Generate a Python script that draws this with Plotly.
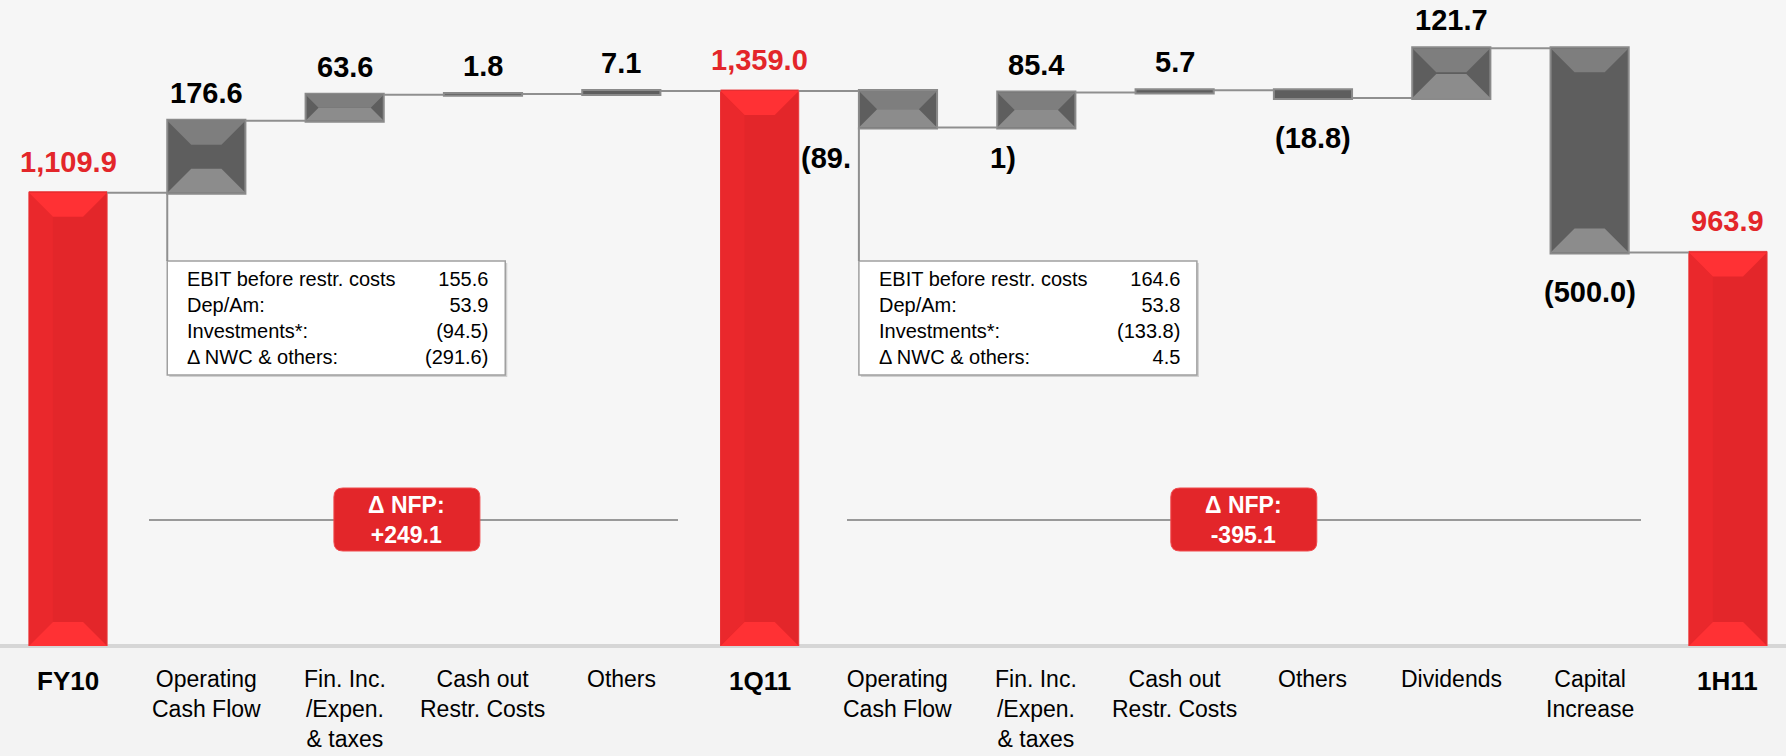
import plotly.graph_objects as go

# ---------------- data ----------------
categories = ["FY10", "Operating<br>Cash Flow", "Fin. Inc.<br>/Expen.<br>& taxes",
              "Cash out<br>Restr. Costs", "Others", "1Q11", "Operating<br>Cash Flow",
              "Fin. Inc.<br>/Expen.<br>& taxes", "Cash out<br>Restr. Costs", "Others",
              "Dividends", "Capital<br>Increase", "1H11"]
values = [1109.9, 176.6, 63.6, 1.8, 7.1, 1359.0, -89.1, 85.4, 5.7, -18.8, 121.7, -500.0, 963.9]
measures = ["absolute", "relative", "relative", "relative", "relative", "total",
            "relative", "relative", "relative", "relative", "relative", "relative", "total"]

box_labels = ["EBIT before restr. costs", "Dep/Am:", "Investments*:", "\u0394 NWC & others:"]
box1_values = [155.6, 53.9, -94.5, -291.6]
box2_values = [164.6, 53.8, -133.8, 4.5]
nfp_values = [249.1, -395.1]

# ---------------- geometry / style ----------------
W, H = 1786, 756
PLOT_H = 646           # plot area height in px (margin b = 110)
YMAX = 1582.0
X0_PX, PX_X = 68.0, 138.33
XMIN = -X0_PX / PX_X
XMAX = (W - X0_PX) / PX_X
PX_Y = PLOT_H / YMAX
BAR_W = 0.565
RED = "#e3262a"
GREY = "#5e5e5e"
FONT = "Liberation Sans, Arial, sans-serif"


def xd(px):
    return (px - X0_PX) / PX_X


def yp(py):
    return (PLOT_H - py) / PLOT_H


def fmt(v, thousands=False):
    s = f"{abs(v):,.1f}" if thousands else f"{abs(v):.1f}"
    return f"({s})" if v < 0 else s


xs = list(range(len(categories)))

# levels
bottoms, tops = [], []
run = 0.0
for v, m in zip(values, measures):
    if m == "absolute":
        run = v
        b, t = 0.0, v
    elif m == "total":
        b, t = 0.0, run
    else:
        b, t = min(run, run + v), max(run, run + v)
        run += v
    bottoms.append(b)
    tops.append(t)

fig = go.Figure()
fig.add_trace(go.Waterfall(
    x=xs, y=values, measure=measures, width=[BAR_W] * len(xs),
    increasing=dict(marker=dict(color=GREY, line=dict(color="#8a8a8a", width=2))),
    decreasing=dict(marker=dict(color=GREY, line=dict(color="#8a8a8a", width=2))),
    totals=dict(marker=dict(color=RED, line=dict(color="#e8383b", width=1))),
    connector=dict(mode="between", line=dict(color="#8f8f8f", width=2)),
    hoverinfo="skip", showlegend=False,
))

shapes = []

# floor shadow line
shapes.append(dict(type="line", xref="paper", yref="paper", x0=0, x1=1, y0=0, y1=0,
                   line=dict(color="#d6d6d6", width=4), layer="below"))

# bevel effect on bars
for i, (b, t, m) in enumerate(zip(bottoms, tops, measures)):
    hpx = (t - b) * PX_Y
    if hpx < 8:
        continue
    d = min(24.0, hpx / 2.0, BAR_W * PX_X / 2.0)
    dx, dy = d / PX_X, d / PX_Y
    xl, xr = i - BAR_W / 2, i + BAR_W / 2
    if m == "relative":
        ctop, cbot = "#7e7e7e", "#8c8c8c"
        cside = None
    else:
        ctop, cbot, cside = "#ff3134", "#ff3134", "#ea282c"
    top_path = f"M{xl},{t} L{xr},{t} L{xr-dx},{t-dy} L{xl+dx},{t-dy} Z"
    bot_path = f"M{xl},{b} L{xr},{b} L{xr-dx},{b+dy} L{xl+dx},{b+dy} Z"
    if cside:
        left_path = f"M{xl},{b} L{xl},{t} L{xl+dx},{t-dy} L{xl+dx},{b+dy} Z"
        shapes.append(dict(type="path", path=left_path, xref="x", yref="y",
                           fillcolor=cside, line=dict(width=0), layer="above"))
    shapes.append(dict(type="path", path=top_path, xref="x", yref="y",
                       fillcolor=ctop, line=dict(width=0), layer="above"))
    shapes.append(dict(type="path", path=bot_path, xref="x", yref="y",
                       fillcolor=cbot, line=dict(width=0), layer="above"))

annotations = []

# value labels
for i, (v, m, b, t) in enumerate(zip(values, measures, bottoms, tops)):
    if m in ("absolute", "total"):
        annotations.append(dict(x=i, y=t, text=f"<b>{fmt(t, True)}</b>", showarrow=False,
                                yshift=31, yanchor="middle",
                                font=dict(family=FONT, size=29, color=RED)))
    elif v >= 0:
        annotations.append(dict(x=i, y=t, text=f"<b>{fmt(v)}</b>", showarrow=False,
                                yshift=28, yanchor="middle",
                                font=dict(family=FONT, size=29, color="#000000")))
    elif i == 6:
        s = fmt(v)
        annotations.append(dict(x=i - BAR_W / 2, y=b, text=f"<b>{s[:-2]}</b>", showarrow=False,
                                xanchor="right", xshift=-6, yshift=-31, yanchor="middle",
                                font=dict(family=FONT, size=29, color="#000000")))
        annotations.append(dict(x=i + 1 - 0.24, y=b, text=f"<b>{s[-2:]}</b>", showarrow=False,
                                yshift=-31, yanchor="middle",
                                font=dict(family=FONT, size=29, color="#000000")))
    else:
        annotations.append(dict(x=i, y=b, text=f"<b>{fmt(v)}</b>", showarrow=False,
                                yshift=-40, yanchor="middle",
                                font=dict(family=FONT, size=29, color="#000000")))

# category labels
for i, (c, m) in enumerate(zip(categories, measures)):
    bold = m in ("absolute", "total")
    annotations.append(dict(x=i, y=0, yref="paper", text=f"<b>{c}</b>" if bold else c,
                            showarrow=False, yanchor="top", yshift=-18,
                            font=dict(family=FONT, size=26 if bold else 23, color="#000000")))

# info boxes
BOX_W_PX = 338
for idx, vals in [(1, box1_values), (6, box2_values)]:
    xl = idx - BAR_W / 2
    xr = xl + BOX_W_PX / PX_X
    ytop, ybot = yp(261), yp(375)
    shapes.append(dict(type="rect", xref="x", yref="paper", x0=xl + 2 / PX_X, x1=xr + 2 / PX_X,
                       y0=ybot - 2 / PLOT_H, y1=ytop - 2 / PLOT_H,
                       fillcolor="#d0d0d0", line=dict(width=0), layer="above"))
    shapes.append(dict(type="rect", xref="x", yref="paper", x0=xl, x1=xr, y0=ybot, y1=ytop,
                       fillcolor="#ffffff", line=dict(color="#a0a0a0", width=1.5), layer="above"))
    # connector from bar bottom to box
    shapes.append(dict(type="line", xref="x", yref="paper", x0=xl, x1=xl,
                       y0=ytop, y1=bottoms[idx] / YMAX,
                       line=dict(color="#8f8f8f", width=2), layer="above"))
    annotations.append(dict(x=xl, y=(ytop + ybot) / 2, yref="paper", xanchor="left", xshift=18,
                            yanchor="middle", align="left", showarrow=False,
                            text="<br>".join(box_labels),
                            font=dict(family=FONT, size=20, color="#000000")))
    annotations.append(dict(x=xr, y=(ytop + ybot) / 2, yref="paper", xanchor="right", xshift=-15,
                            yanchor="middle", align="right", showarrow=False,
                            text="<br>".join(fmt(v) for v in vals),
                            font=dict(family=FONT, size=20, color="#000000")))

# NFP badges
for (cx, lx0, lx1), nv in zip([(2.45, xd(149), xd(678)), (8.5, xd(847), xd(1641))], nfp_values):
    ly = yp(520)
    shapes.append(dict(type="line", xref="x", yref="paper", x0=lx0, x1=lx1, y0=ly, y1=ly,
                       line=dict(color="#999999", width=2), layer="above"))
    hw = 73 / PX_X
    x0, x1 = cx - hw, cx + hw
    y0, y1 = yp(551), yp(488)
    rx, ry = 9 / PX_X, 9 / PLOT_H
    path = (f"M{x0+rx},{y0} L{x1-rx},{y0} Q{x1},{y0} {x1},{y0+ry} L{x1},{y1-ry} "
            f"Q{x1},{y1} {x1-rx},{y1} L{x0+rx},{y1} Q{x0},{y1} {x0},{y1-ry} "
            f"L{x0},{y0+ry} Q{x0},{y0} {x0+rx},{y0} Z")
    shapes.append(dict(type="path", xref="x", yref="paper", path=path,
                       fillcolor=RED, line=dict(color="#f04a4d", width=1), layer="above"))
    sign = "+" if nv > 0 else "-"
    annotations.append(dict(x=cx, y=(y0 + y1) / 2, yref="paper", showarrow=False,
                            yanchor="middle",
                            text=f"<b>\u0394 NFP:<br>{sign}{abs(nv):.1f}</b>",
                            font=dict(family=FONT, size=23, color="#ffffff")))

fig.update_layout(
    width=W, height=H,
    margin=dict(l=0, r=0, t=0, b=H - PLOT_H, pad=0),
    paper_bgcolor="#f3f3f3", plot_bgcolor="#f6f6f6",
    xaxis=dict(range=[XMIN, XMAX], visible=False, fixedrange=True),
    yaxis=dict(range=[0, YMAX], visible=False, fixedrange=True),
    shapes=shapes, annotations=annotations, showlegend=False,
)

fig.write_html("out.html", config={"displayModeBar": False},
               post_script="document.body.style.margin='0';")
